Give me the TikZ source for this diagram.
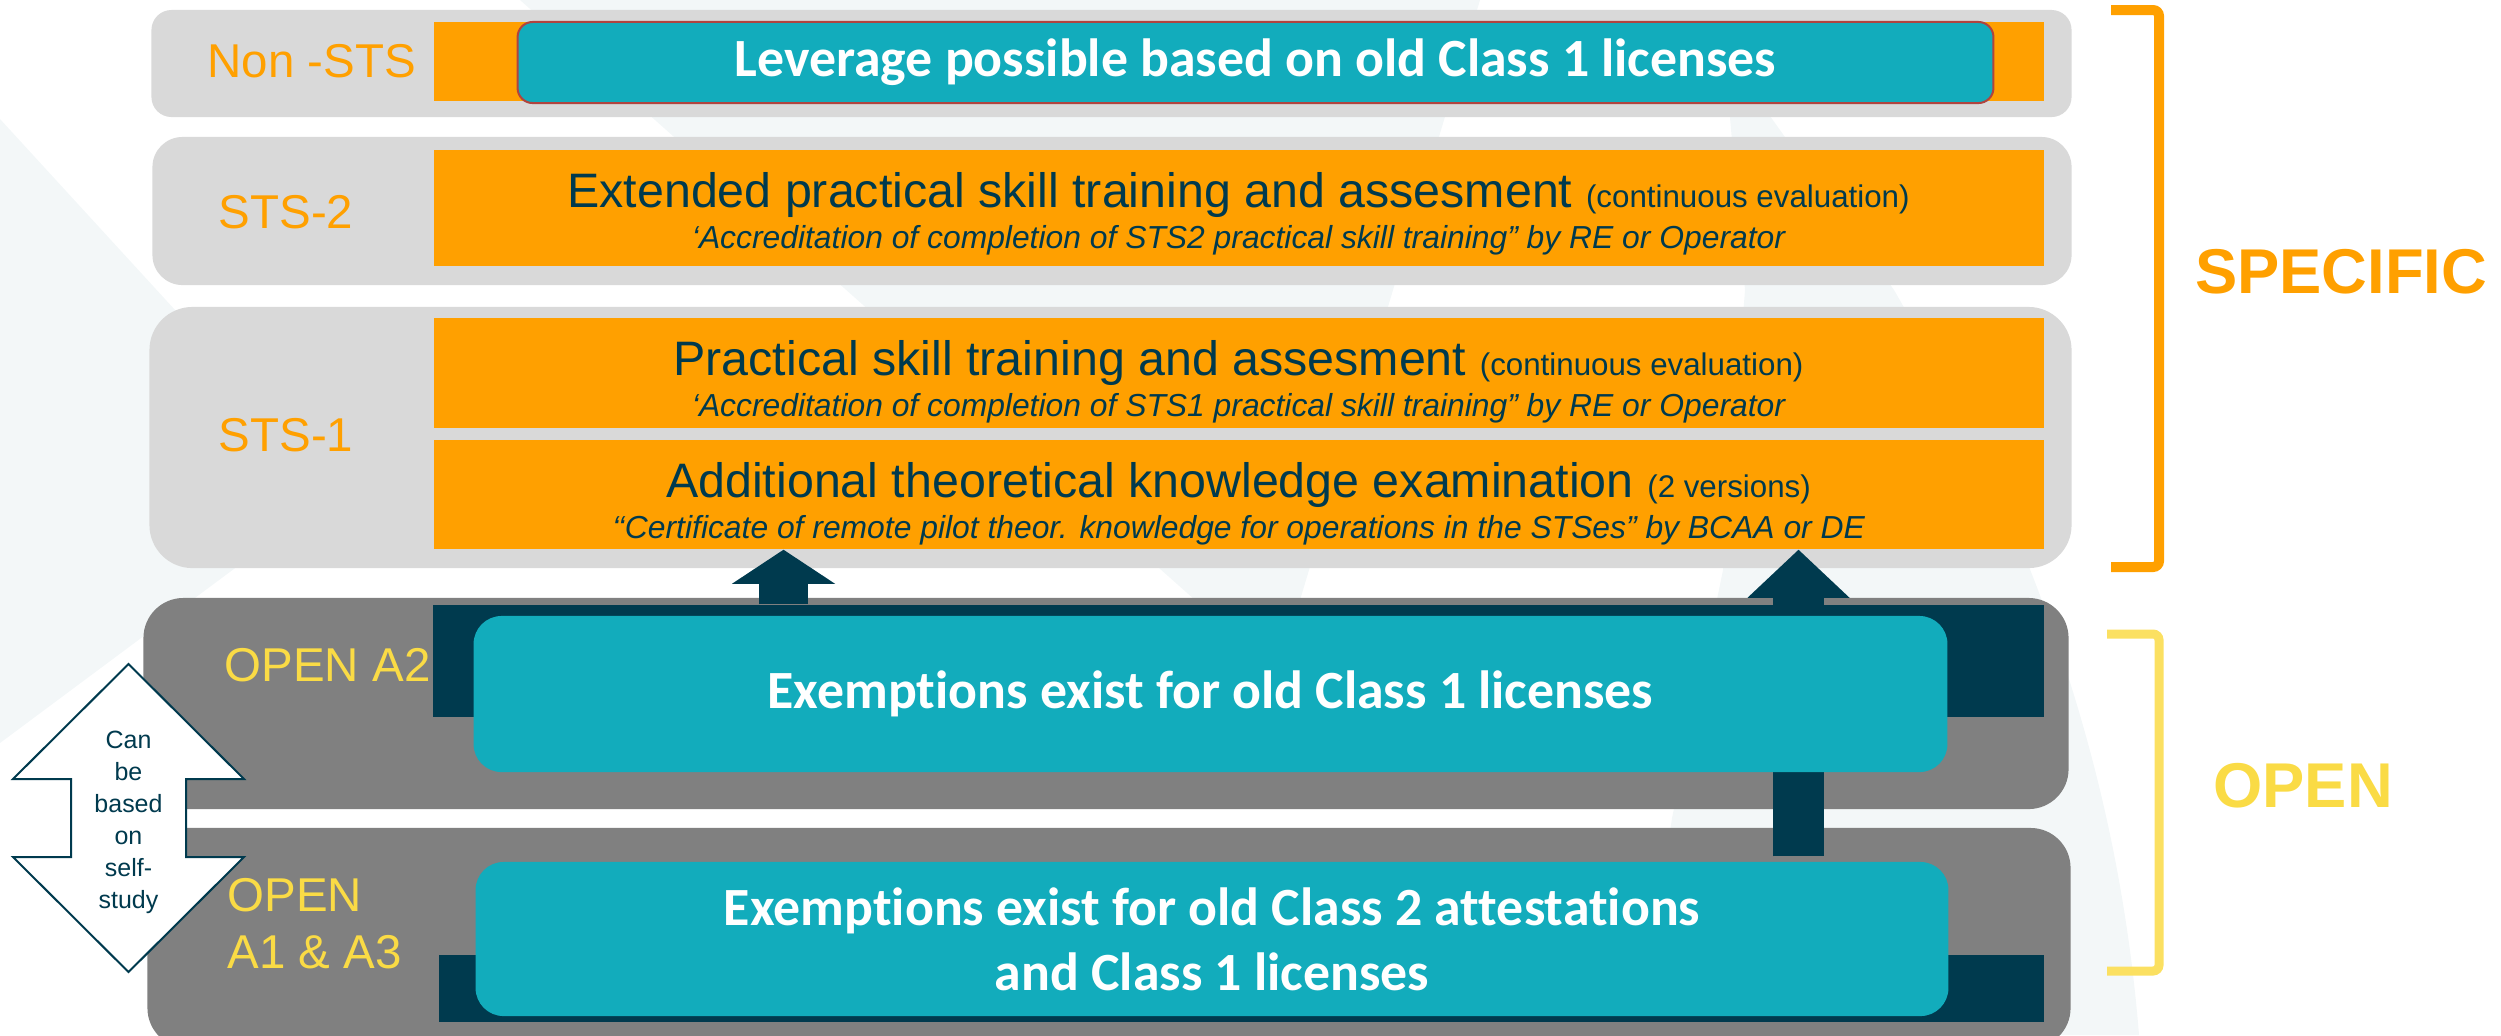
\documentclass[tikz,border=0pt]{standalone}
\usepackage{fontspec}
\setmainfont{Liberation Sans}
\newfontfamily\calfont[Ligatures=NoCommon]{Carlito}
\usetikzlibrary{arrows.meta}

\definecolor{tiergrey}{HTML}{D9D9D9}
\definecolor{opengrey}{HTML}{808080}
\definecolor{stsorange}{HTML}{FFA000}
\definecolor{exteal}{HTML}{12ACBC}
\definecolor{navy}{HTML}{003A4E}
\definecolor{openyellow}{HTML}{FADB45}
\definecolor{brownedge}{HTML}{B0443F}
\definecolor{faint}{HTML}{F3F7F8}

\newcommand{\smallpar}[1]{{\fontsize{8.9pt}{11.6pt}\selectfont #1}}
\newcommand{\accr}[1]{{\fontsize{9.05pt}{11.6pt}\selectfont\itshape #1}}

\begin{document}
\begin{tikzpicture}[x=0.01cm,y=-0.01cm,
	tier/.style={fill=tiergrey,rounded corners=0.3cm,inner sep=0},
	opentier/.style={fill=opengrey,rounded corners=0.4cm,inner sep=0},
	bar/.style={fill=stsorange,inner sep=0,minimum width=16.09cm},
	darkbar/.style={fill=navy,inner sep=0},
	tealbox/.style={fill=exteal,rounded corners=0.28cm,text=white,align=center,inner sep=0,
		font=\calfont\bfseries\fontsize{15.3pt}{18.5pt}\selectfont},
	bartext/.style={text=navy,align=center,inner sep=0,font=\fontsize{13.75pt}{11.6pt}\selectfont},
	lvl/.style={text=stsorange,anchor=west,inner sep=0,font=\fontsize{13.5pt}{16.2pt}\selectfont},
	openlvl/.style={lvl,text=openyellow},
	uparrow/.style={draw=navy,line width=0.5cm},
	studyarrow/.style={fill=white,draw=navy,line width=0.02cm},
	bracket/.style={line width=0.1cm,rounded corners=0.06cm}]
	\useasboundingbox (0,0) rectangle (2501,1035);
	% Background
	\fill[faint] (0,119) -- (340,490) -- (0,743) -- cycle;
	\fill[faint] (520,0) -- (1480,0) -- (1300,600) -- (1195,600) -- cycle;
	\fill[faint] (1728,95) -- (1755,95) -- (1894,290) .. controls (2050,560) and (2120,800) .. (2139,1035)
		-- (1640,1035) -- (1672,818) -- (1723,570) -- (1745,290) -- cycle;
	% Tiers
	\node[tier,rounded corners=0.2cm,minimum width=19.19cm,minimum height=1.07cm] (nonsts) at (1111.5,63.5) {};
	\node[tier,minimum width=19.18cm,minimum height=1.48cm] (sts2) at (1112,211) {};
	\node[tier,rounded corners=0.43cm,minimum width=19.21cm,minimum height=2.61cm] (sts1) at (1110.5,437.5) {};
	\node[opentier,minimum width=19.24cm,minimum height=2.11cm] (opena2) at (1106,703.5) {};
	\node[opentier,minimum width=19.22cm,minimum height=2.2cm] (opena1) at (1109,938) {};
	% Bars
	\node[bar,minimum height=0.79cm] (nonstsbar) at (1238.5,61.5) {};
	\node[bar,minimum height=1.16cm] (sts2bar) at (1238.5,208) {};
	\node[bar,minimum height=1.10cm] (skillbar) at (1238.5,373) {};
	\node[bar,minimum height=1.09cm] (theorybar) at (1238.5,494.5) {};
	\node[darkbar,minimum width=16.10cm,minimum height=1.12cm] (a2dark) at (1238,661) {};
	\node[darkbar,minimum width=16.04cm,minimum height=0.67cm] (a1dark) at (1241,988.5) {};
	% Texts of the bars
	\node[bartext] (sts2text) at ([yshift=-0.06cm]sts2bar.center)
		{Extended practical skill training and assesment \smallpar{(continuous evaluation)}\\
		\accr{‘Accreditation of completion of STS2 practical skill training” by RE or Operator}};
	\node[bartext] (skilltext) at ([yshift=-0.09cm]skillbar.center)
		{Practical skill training and assesment \smallpar{(continuous evaluation)}\\
		\accr{‘Accreditation of completion of STS1 practical skill training” by RE or Operator}};
	\node[bartext] (theorytext) at ([yshift=-0.09cm]theorybar.center)
		{Additional theoretical knowledge examination \smallpar{(2 versions)}\\
		\accr{‘{}‘Certificate of remote pilot theor. knowledge for operations in the STSes” by BCAA or DE}};
	% Teal boxes and arrows
	\node[tealbox,draw=brownedge,line width=0.02cm,rounded corners=0.15cm,minimum width=14.75cm,minimum height=0.81cm]
		(leverage) at (1255.5,62.5) {Leverage possible based on old Class 1 licenses};
	\node[tealbox,minimum width=14.72cm,minimum height=1.54cm] (a1teal) at (1212,939)
		{Exemptions exist for old Class 2 attestations\\and Class 1 licenses};
	\coordinate (leftup) at (783.5,0);
	\coordinate (rightup) at (1798.5,0);
	\draw[uparrow,line width=0.49cm,-{Triangle[width=1.03cm,length=0.34cm,line width=0pt]}]
		(a2dark.north -| leftup) -- (theorybar.south -| leftup);
	\draw[uparrow,line width=0.51cm,shorten <=0.05cm,-{Triangle[width=1.02cm,length=0.48cm,line width=0pt]}]
		(a1teal.north -| rightup) -- (theorybar.south -| rightup);
	\node[tealbox,minimum width=14.73cm,minimum height=1.56cm] (a2teal) at (1210.5,694)
		{Exemptions exist for old Class 1 licenses};
	% Level labels
	\node[lvl] (nonstslbl) at (207,61) {Non -STS};
	\node[lvl] (sts2lbl) at (218,212.5) {STS-2};
	\node[lvl] (sts1lbl) at (218,435) {STS-1};
	\node[openlvl] (a2lbl) at (224,665.5) {OPEN A2};
	\node[openlvl,anchor=north west,align=left] (a1lbl) at (227,878) {OPEN\\A1 \& A3};
	% Self-study arrow
	\coordinate (study) at (128.5,818);
	\draw[studyarrow] ([shift={(0,-154)}]study) -- ++(115.5,115) -- ++(-58,0) -- ++(0,78) -- ++(58,0)
		-- ++(-115.5,115) -- ++(-115.5,-115) -- ++(58,0) -- ++(0,-78) -- ++(-58,0) -- cycle;
	\node[text=navy,align=center,inner sep=0,font=\fontsize{7.1pt}{9.1pt}\selectfont] (studylbl) at (128.5,822)
		{Can\\be\\based\\on\\self-\\study};
	% Brackets
	\draw[bracket,stsorange] (2111,10) -- (2159,10) -- (2159,567) -- (2111,567);
	\draw[bracket,openyellow!85!white,line width=0.09cm] (2107,634) -- (2159,634) -- (2159,971) -- (2107,971);
	\node[text=stsorange,font=\bfseries\fontsize{18pt}{20pt}\selectfont] (specific) at (2341,271.5) {SPECIFIC};
	\node[text=openyellow,font=\bfseries\fontsize{18pt}{20pt}\selectfont] (open) at (2303,786) {OPEN};
\end{tikzpicture}
\end{document}
